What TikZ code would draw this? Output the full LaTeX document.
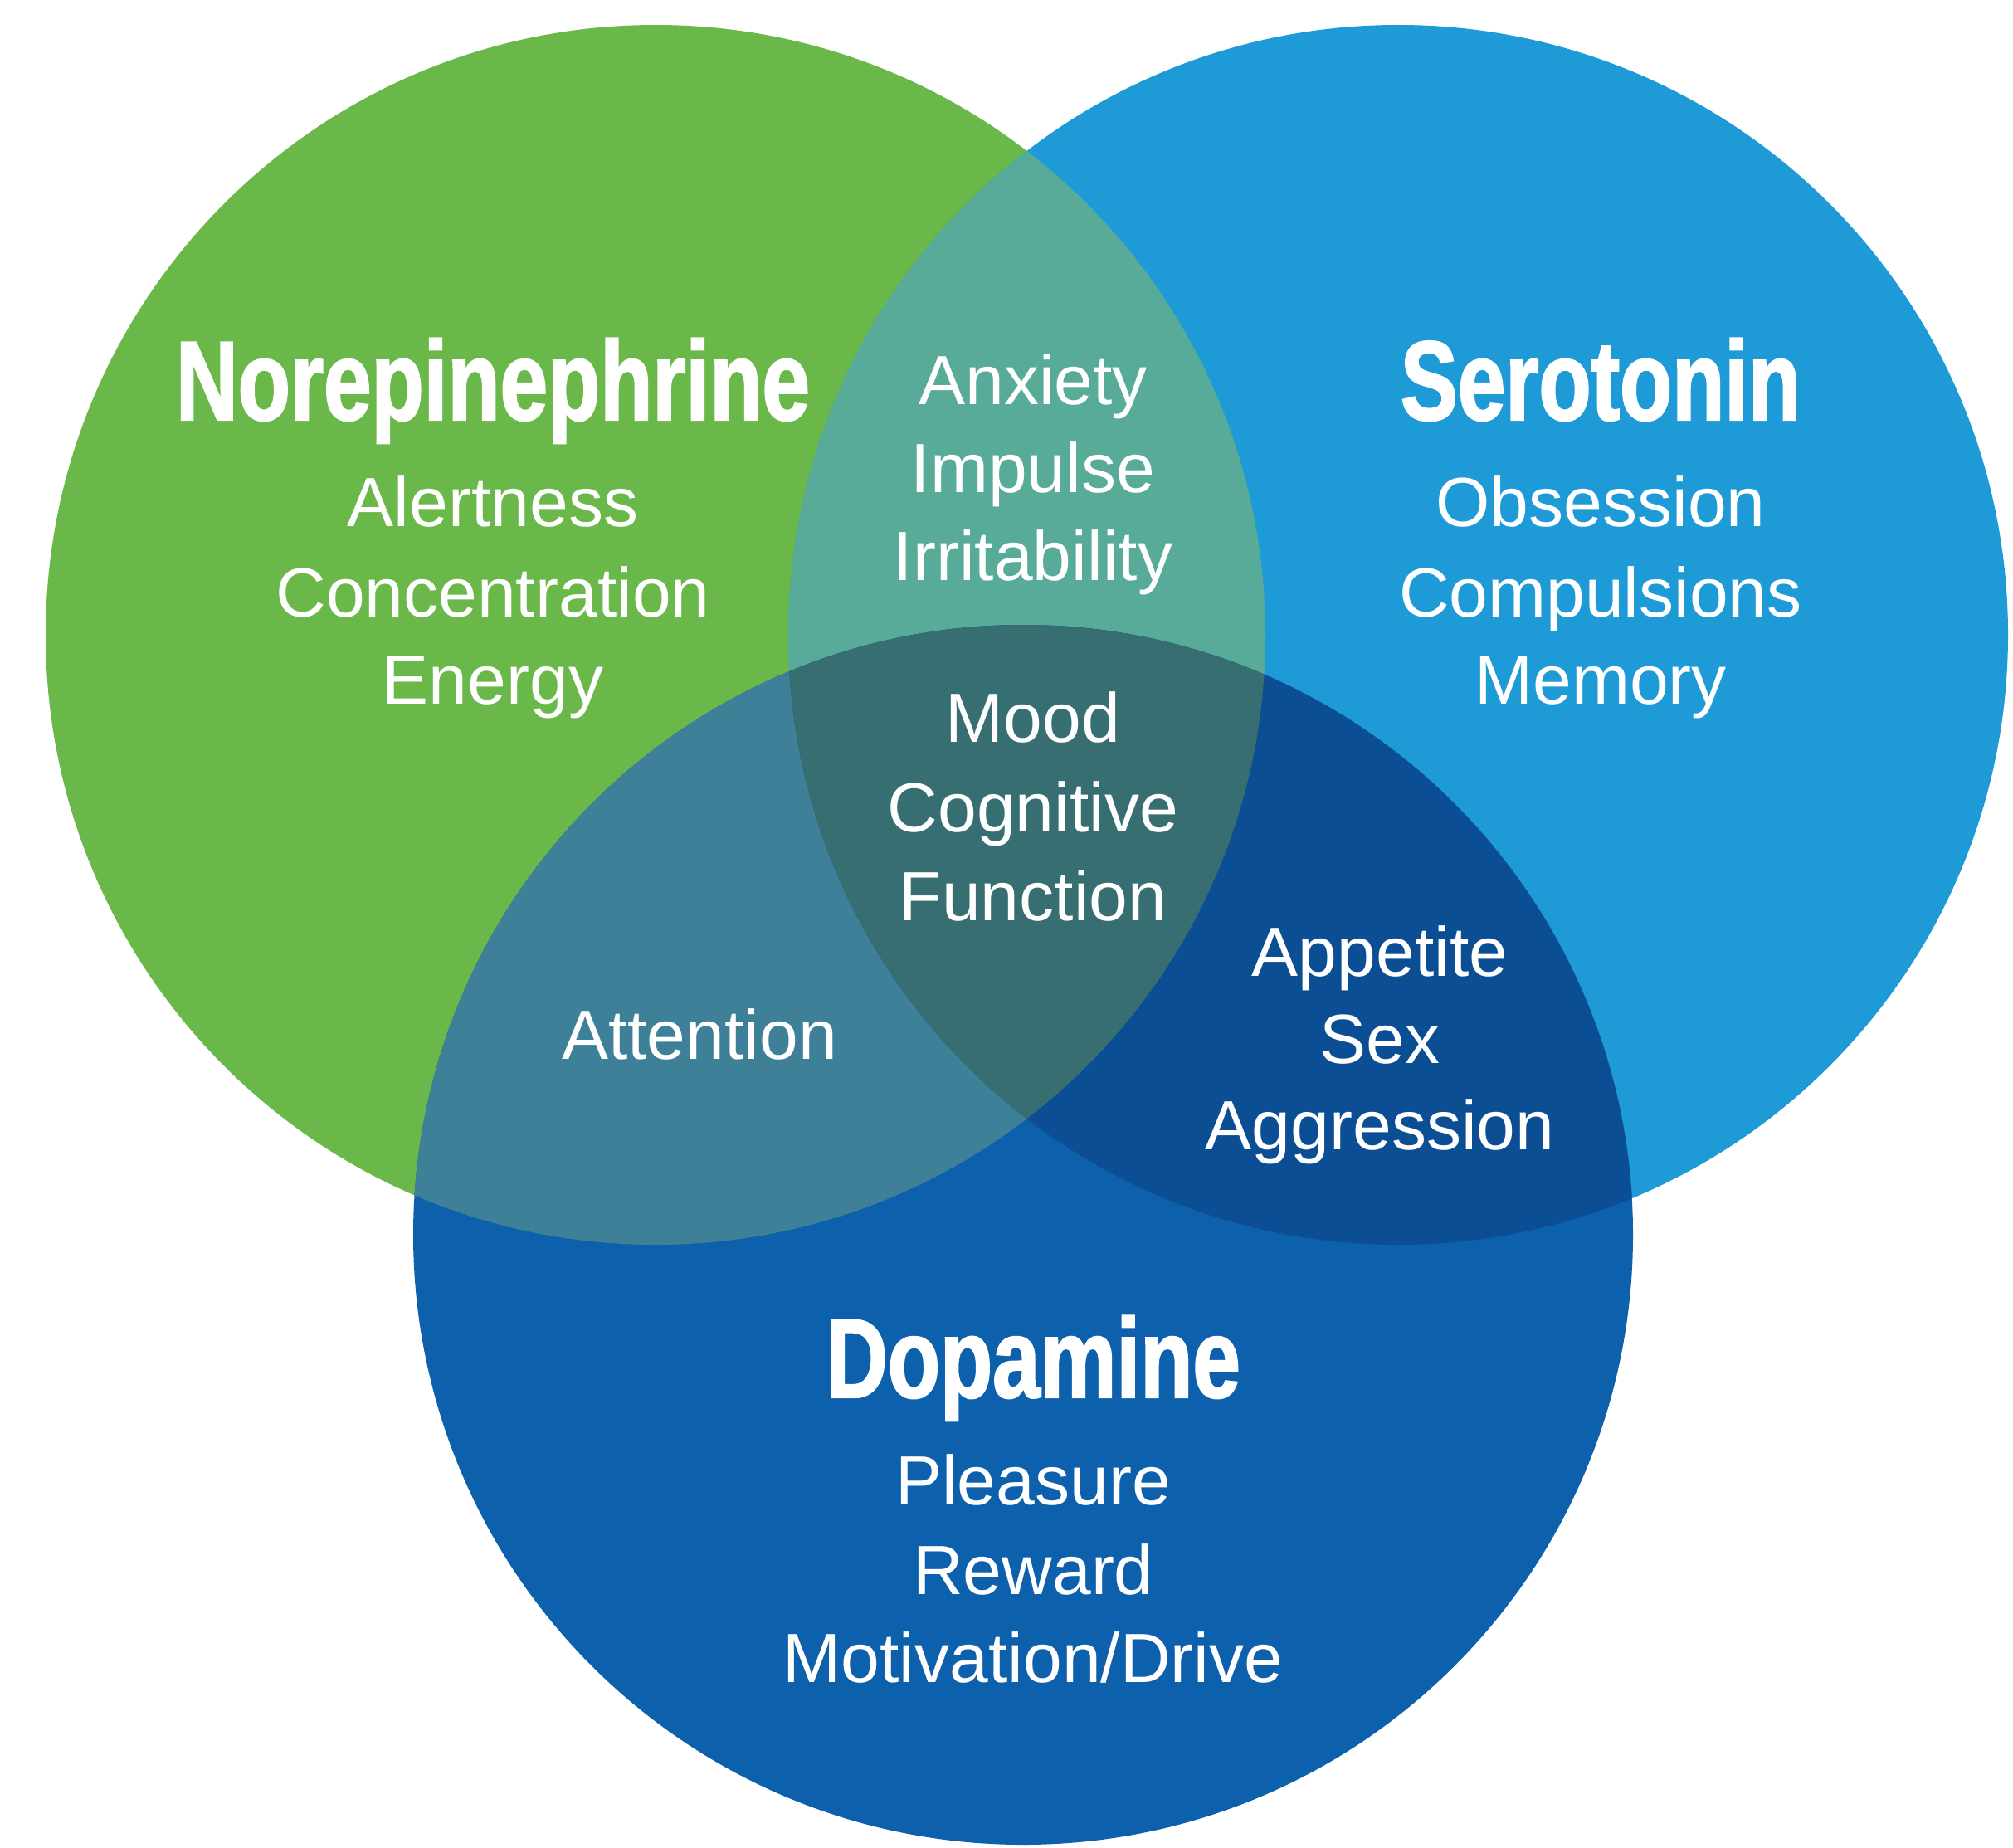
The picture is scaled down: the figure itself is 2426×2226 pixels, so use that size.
\documentclass[tikz,border=0pt]{standalone}
\usepackage{fontspec}
\setmainfont{Liberation Sans}
\newfontfamily\headfont[FakeStretch=0.76,BoldFeatures={FakeBold=1.6}]{Liberation Sans}
\definecolor{cN}{RGB}{106,184,74}
\definecolor{cS}{RGB}{30,155,215}
\definecolor{cD}{RGB}{13,96,172}
\definecolor{cNS}{RGB}{88,171,153}
\definecolor{cND}{RGB}{62,128,152}
\definecolor{cSD}{RGB}{12,78,148}
\definecolor{cNSD}{RGB}{54,110,114}
\newcommand\circN{(790,765) circle[radius=735]}
\newcommand\circS{(1685,765) circle[radius=735]}
\newcommand\circD{(1233,1488) circle[radius=735]}
\begin{document}
\begin{tikzpicture}[x=0.25pt,y=-0.25pt,
  body/.style={text=white,font=\fontsize{21}{26.5}\selectfont,inner sep=0pt,anchor=base},
  head/.style={text=white,font=\headfont\bfseries\fontsize{34}{40}\selectfont,inner sep=0pt,anchor=base}]
\useasboundingbox (0,0) rectangle (2426,2226);
\fill[cN] \circN;
\fill[cS] \circS;
\fill[cD] \circD;
\begin{scope}\clip \circN; \fill[cNS] \circS; \end{scope}
\begin{scope}\clip \circN; \fill[cND] \circD; \end{scope}
\begin{scope}\clip \circS; \fill[cSD] \circD; \end{scope}
\begin{scope}\clip \circN; \clip \circS; \fill[cNSD] \circD; \end{scope}
% Norepinephrine
\node[head] (nh) at (594,506) {Norepinephrine};
\node[body] (n1) at (594,634) {Alertness};
\node[body] (n2) at (594,743) {Concentration};
\node[body] (n3) at (594,848) {Energy};
% Serotonin
\node[head] (sh) at (1929,506) {Serotonin};
\node[body] (s1) at (1929,634) {Obsession};
\node[body] (s2) at (1929,743) {Compulsions};
\node[body] (s3) at (1929,848) {Memory};
% N and S
\node[body] (ns1) at (1245,487) {Anxiety};
\node[body] (ns2) at (1245,593) {Impulse};
\node[body] (ns3) at (1245,699) {Irritability};
% centre
\node[body] (c1) at (1245,894) {Mood};
\node[body] (c2) at (1245,1002) {Cognitive};
\node[body] (c3) at (1245,1109) {Function};
% N and D
\node[body] (nd1) at (843,1276) {Attention};
% S and D
\node[body] (sd1) at (1663,1176) {Appetite};
\node[body] (sd2) at (1663,1281) {Sex};
\node[body] (sd3) at (1663,1385) {Aggression};
% Dopamine
\node[head] (dh) at (1245,1684) {Dopamine};
\node[body] (d1) at (1245,1813) {Pleasure};
\node[body] (d2) at (1245,1921) {Reward};
\node[body] (d3) at (1245,2027) {Motivation/Drive};
\end{tikzpicture}
\end{document}
